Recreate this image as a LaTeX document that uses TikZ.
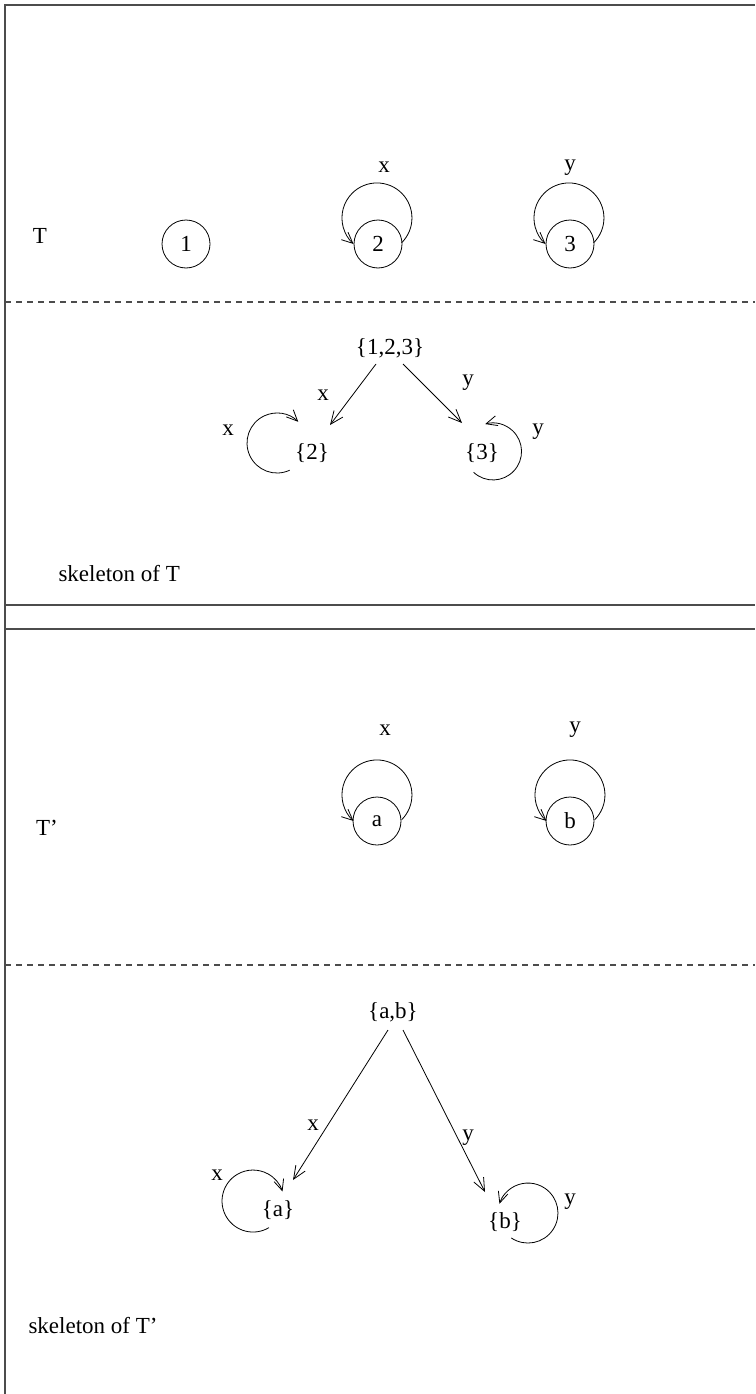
\documentclass[tikz,border=0pt]{standalone}
\usepackage{fontspec}
\setmainfont{Liberation Serif}
\usetikzlibrary{arrows.meta}
\tikzset{
	panel/.style={line width=1.4pt, black!70},
	cut/.style={line width=1.2pt, black!70, dash pattern=on 6pt off 5pt},
	vtx/.style={draw, circle, minimum size=48pt, inner sep=0pt, line width=0.8pt},
	grp/.style={inner sep=1pt},
	arr/.style={-{Straight Barb[length=13pt,width=11pt]}, line width=0.8pt},
	lp/.style={-{Straight Barb[length=11pt,width=10pt]}, line width=0.8pt},
}

\begin{document}
\begin{tikzpicture}[x=1pt, y=-1pt, font=\fontsize{23}{27}\selectfont]
	\useasboundingbox (0,0) rectangle (755,1394);
	\draw[panel] (755,5) -- (5,5) -- (5,1394);
	\draw[panel] (5,605) -- (755,605);
	\draw[panel] (5,629) -- (755,629);
	\draw[cut] (5,302) -- (755,302);
	\draw[cut] (5,965) -- (755,965);

	% T
	\node (labT) at (40,236) {T};
	\node[vtx] (n1) at (186,244) {1};
	\node[vtx] (n2) at (378,244) {2};
	\node[vtx] (n3) at (570,244) {3};
	\node (lx2) at (384,167) {x};
	\node (ly3) at (570,168) {y};
	\draw[lp] ([shift={(23.7,-1.3)}]n2.center) arc[start angle=45, end angle=-228, radius=35];
	\draw[lp] ([shift={(23.7,-1.3)}]n3.center) arc[start angle=45, end angle=-228, radius=35];

	% skeleton of T
	\node[grp] (s123) at (390,348) {\{1,2,3\}};
	\node[grp] (s2) at (312,453) {\{2\}};
	\node[grp] (s3) at (482,453) {\{3\}};
	\draw[arr] ([shift={(-14,16)}]s123.center) -- ([shift={(18,-28)}]s2.center);
	\draw[arr] ([shift={(13,16)}]s123.center) -- ([shift={(-20,-30)}]s3.center);
	\node (ex2) at (323,395) {x};
	\node (ey3) at (468,383) {y};
	\draw[lp] ([shift={(-22.3,17.2)}]s2.center) arc[start angle=65, end angle=315, radius=30];
	\draw[lp] ([shift={(-8.4,19.3)}]s3.center) arc[start angle=133, end angle=-106, radius=28.5];
	\node (lpx2) at (228,430) {x};
	\node (lpy3) at (538,432) {y};
	\node[anchor=west] (skT) at (55,574) {skeleton of T};

	% T'
	\node (labTp) at (47,828) {T'};
	\node[vtx] (na) at (377,821) {a};
	\node[vtx] (nb) at (570,821) {b};
	\node (lxa) at (385,730) {x};
	\node (lyb) at (575,730) {y};
	\draw[lp] ([shift={(24.7,-1.3)}]na.center) arc[start angle=45, end angle=-228, radius=35];
	\draw[lp] ([shift={(24.7,-1.3)}]nb.center) arc[start angle=45, end angle=-228, radius=35];

	% skeleton of T'
	\node[grp] (sab) at (393,1012) {\{a,b\}};
	\node[grp] (sa) at (278,1210) {\{a\}};
	\node[grp] (sb) at (505,1222) {\{b\}};
	\draw[arr] ([shift={(-5,18)}]sab.center) -- ([shift={(15,-30)}]sa.center);
	\draw[arr] ([shift={(10,18)}]sab.center) -- ([shift={(-20,-30)}]sb.center);
	\node (exa) at (313,1125) {x};
	\node (eyb) at (468,1138) {y};
	\draw[lp] ([shift={(-9,17.6)}]sa.center) arc[start angle=59, end angle=342, radius=31];
	\draw[lp] ([shift={(6.2,15.9)}]sb.center) arc[start angle=124, end angle=-162, radius=30];
	\node (lpxa) at (217,1175) {x};
	\node (lpyb) at (570,1202) {y};
	\node[anchor=west] (skTp) at (25,1325) {skeleton of T'};
\end{tikzpicture}
\end{document}
